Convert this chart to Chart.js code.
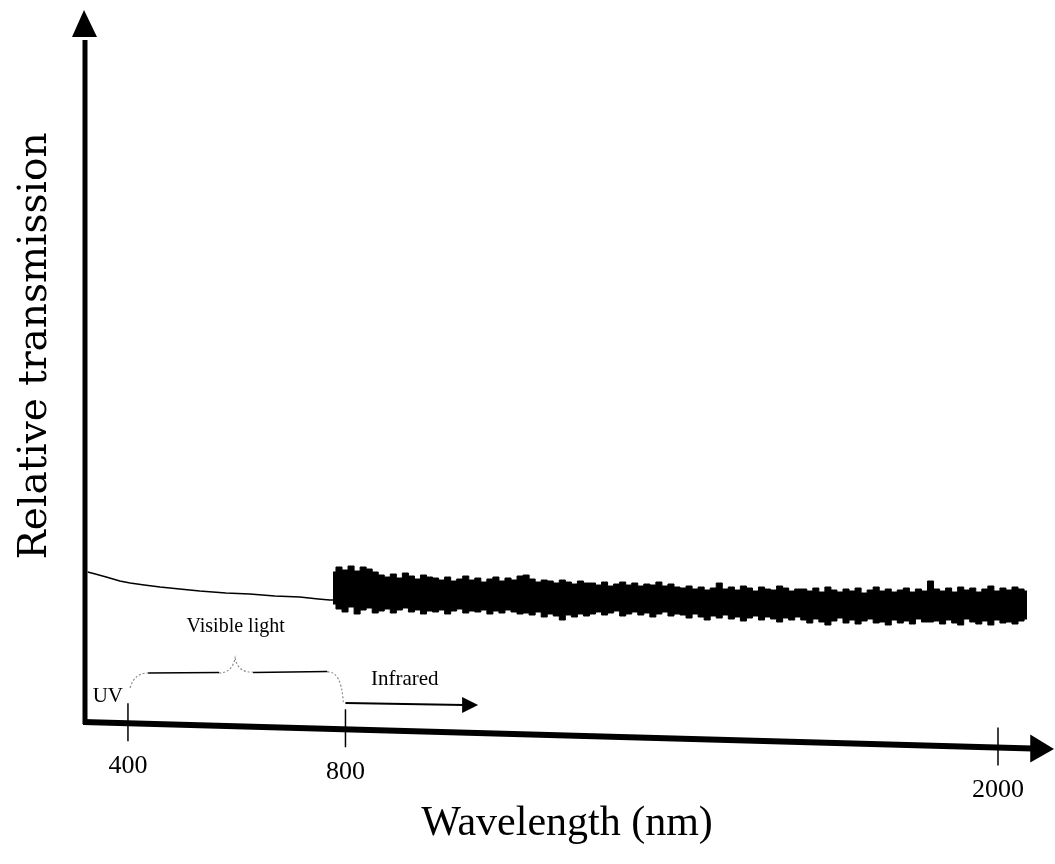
<!DOCTYPE html>
<html>
<head>
<meta charset="utf-8">
<title>Relative transmission vs wavelength</title>
<script src="https://cdn.jsdelivr.net/npm/chart.js"></script>
<style>
  html, body { margin: 0; padding: 0; background: #fff; }
  canvas { display: block; }
</style>
</head>
<body>
<canvas id="myChart" width="1055" height="864"></canvas>
<script>
// smooth part (UV + visible), wavelength in nm / relative transmission (a.u.)
const visWl = [326, 340, 360, 385, 404, 430, 459, 495, 532, 580, 624, 670, 716, 750, 771, 777];
const visT  = [150, 148, 145, 141, 139, 137, 135, 133, 131, 129, 128, 126, 125, 123, 122, 122];

// noisy infrared part: upper and lower edge of the band
const irStart = 777;
const irStep = 11.1;
const irUpper = [
    150, 155, 152, 156, 151, 155, 153, 150,
    147, 145, 148, 144, 149, 146, 143, 147, 145,
    144, 142, 145, 141, 143, 146, 142, 144, 140, 143, 145, 141, 144, 142, 146,
    147, 143, 140, 142, 141, 139, 142, 140, 138, 141, 139,
    139, 137, 140, 136, 138, 140, 137, 139, 136, 138, 137, 140, 136, 138, 135,
    134, 136, 133, 135, 132, 134, 139, 133, 135, 132, 136, 134, 131, 135, 133, 132, 136, 134, 131, 133,
    133, 131, 134, 130, 135, 132, 130, 133, 131, 134, 129, 132, 135, 131, 133, 130, 132, 134, 130, 133, 131,
    141,
    133, 131, 134, 130, 135, 132, 134, 130, 133, 136, 131, 134, 132, 135, 133, 131
];
const irLower = [
    118, 113, 110, 115, 108, 112, 114, 109,
    111, 113, 109, 112, 114, 110, 112, 108, 111,
    110, 112, 108, 111, 113, 109, 111, 110, 112, 108, 111, 109, 112, 110, 108,
    109, 107, 110, 105, 108, 106, 102, 107, 105, 108, 106,
    108, 110, 107, 109, 111, 106, 108, 110, 107, 109, 105, 108, 110, 106, 108,
    107, 104, 108, 105, 102, 106, 104, 107, 103, 105, 101, 104, 106, 102, 105, 103, 100, 104, 102, 105,
    102, 99, 103, 100, 97, 101, 104, 99, 102, 98, 101, 103, 99, 100, 97, 102, 99, 101, 98, 103, 100,
    100,
    101, 98, 102, 99, 97, 103, 100, 98, 101, 97, 102, 99, 100, 98, 101, 103
];

// axis ticks
const tickWl = [400, 800, 2000];
const tickLabels = ['400', '800', '2000'];

const xMin = 321, xMax = 2103;
const yMin = -30, yMax = 707;

function points(xs, ys) {
    return ys.map((y, i) => ({x: xs[i], y: y}));
}
const irWl = irUpper.map((v, i) => irStart + i * irStep);

// draws the hand-made axes, ticks, titles and the UV / visible / IR notes
const figurePlugin = {
    id: 'figure',
    afterDatasetsDraw(chart) {
        const ctx = chart.ctx;
        const xs = v => chart.scales.x.getPixelForValue(v);
        const ys = v => chart.scales.y.getPixelForValue(v);
        const axisV = wl => -27 * (wl - xMin) / (xMax - xMin); // scanned axis is a bit slanted
        const left = chart.chartArea.left;
        ctx.save();
        ctx.fillStyle = '#000';
        ctx.strokeStyle = '#000';

        // y axis + arrow
        ctx.lineWidth = 5;
        ctx.beginPath();
        ctx.moveTo(left, ys(0) + 2);
        ctx.lineTo(left, ys(yMax - 25));
        ctx.stroke();
        ctx.beginPath();
        ctx.moveTo(left - 1, ys(yMax + 5));
        ctx.lineTo(left - 13, ys(yMax - 22));
        ctx.lineTo(left + 12, ys(yMax - 22));
        ctx.closePath();
        ctx.fill();

        // x axis + arrow
        const endWl = xMax - 40;
        ctx.lineWidth = 6;
        ctx.beginPath();
        ctx.moveTo(left - 2, ys(axisV(xMin)));
        ctx.lineTo(xs(endWl), ys(axisV(endWl)));
        ctx.stroke();
        ctx.beginPath();
        ctx.moveTo(xs(xMax), ys(axisV(xMax)));
        ctx.lineTo(xs(endWl) - 2, ys(axisV(endWl)) - 14);
        ctx.lineTo(xs(endWl) - 2, ys(axisV(endWl)) + 14);
        ctx.closePath();
        ctx.fill();

        // ticks and labels
        ctx.lineWidth = 1.5;
        ctx.font = '26px "Liberation Serif", "Times New Roman", serif';
        ctx.textAlign = 'center';
        ctx.textBaseline = 'alphabetic';
        tickWl.forEach((wl, i) => {
            const px = xs(wl), py = ys(axisV(wl));
            ctx.beginPath();
            ctx.moveTo(px, py - 20);
            ctx.lineTo(px, py + 18);
            ctx.stroke();
            ctx.fillText(tickLabels[i], px, py + 50);
        });

        // axis titles
        ctx.font = '42px "Liberation Serif", "Times New Roman", serif';
        ctx.fillText('Wavelength (nm)', 567, 835);
        ctx.save();
        ctx.translate(46, 346);
        ctx.rotate(-Math.PI / 2);
        ctx.font = '39px "DejaVu Serif", serif';
        ctx.fillText('Relative transmission', 0, 0);
        ctx.restore();

        // UV / visible / infrared notes
        ctx.font = '21px "Liberation Serif", "Times New Roman", serif';
        ctx.fillText('UV', xs(363), ys(20));
        ctx.fillText('Infrared', xs(909), ys(37));
        ctx.font = '20px "Liberation Serif", "Times New Roman", serif';
        ctx.fillText('Visible light', xs(598), ys(90));

        // brace over the visible range: grey dotted curls, solid black runs
        const bL = xs(404), bR = xs(796), bM = xs(597);
        const lev = ys(49), tip = ys(64);
        ctx.strokeStyle = '#8a8a8a';
        ctx.lineWidth = 1.2;
        ctx.setLineDash([2, 2]);
        ctx.beginPath();
        ctx.moveTo(bL, ys(34));
        ctx.quadraticCurveTo(bL + 4, lev, bL + 18, lev);
        ctx.moveTo(bM - 16, lev);
        ctx.quadraticCurveTo(bM - 3, lev, bM, tip);
        ctx.quadraticCurveTo(bM + 3, lev, bM + 18, lev - 1);
        ctx.moveTo(bR - 16, lev - 1);
        ctx.quadraticCurveTo(bR - 2, lev - 2, bR, ys(20));
        ctx.stroke();
        ctx.setLineDash([]);
        ctx.strokeStyle = '#000';
        ctx.lineWidth = 1.6;
        ctx.beginPath();
        ctx.moveTo(bL + 18, lev);
        ctx.lineTo(bM - 16, lev - 0.5);
        ctx.moveTo(bM + 18, lev - 0.5);
        ctx.lineTo(bR - 16, lev - 1.5);
        ctx.stroke();

        // infrared arrow
        const a0 = xs(800), a1 = xs(1044), ay = ys(18);
        ctx.lineWidth = 2;
        ctx.beginPath();
        ctx.moveTo(a0, ay - 1);
        ctx.lineTo(a1 - 14, ay + 1);
        ctx.stroke();
        ctx.beginPath();
        ctx.moveTo(a1, ay + 1);
        ctx.lineTo(a1 - 16, ay - 7);
        ctx.lineTo(a1 - 16, ay + 9);
        ctx.closePath();
        ctx.fill();
        ctx.restore();
    }
};

const ctx = document.getElementById('myChart').getContext('2d');
const myChart = new Chart(ctx, {
    type: 'line',
    data: {
        datasets: [
            {
                label: 'UV / visible',
                data: points(visWl, visT),
                borderColor: '#000',
                borderWidth: 1.5,
                pointRadius: 0,
                fill: false,
                tension: 0
            },
            {
                label: 'IR upper',
                data: points(irWl, irUpper),
                borderColor: '#000',
                backgroundColor: '#000',
                borderWidth: 1,
                pointRadius: 0,
                stepped: 'middle',
                fill: '+1'
            },
            {
                label: 'IR lower',
                data: points(irWl, irLower),
                borderColor: '#000',
                borderWidth: 1,
                pointRadius: 0,
                stepped: 'middle',
                fill: false
            }
        ]
    },
    options: {
        responsive: false,
        animation: false,
        events: [],
        layout: { padding: { left: 85, right: 1, top: 15, bottom: 112 } },
        plugins: {
            legend: { display: false },
            tooltip: { enabled: false }
        },
        scales: {
            x: { type: 'linear', min: xMin, max: xMax, display: false },
            y: { min: yMin, max: yMax, display: false }
        }
    },
    plugins: [figurePlugin]
});
</script>
</body>
</html>
